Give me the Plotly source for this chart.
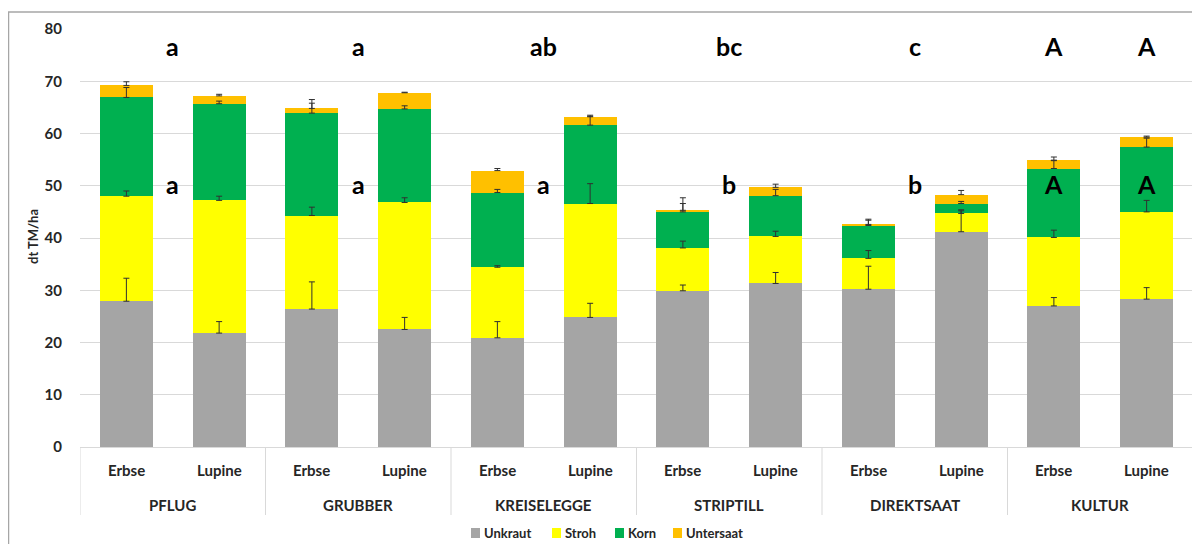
import plotly.graph_objects as go

# Gruppen und Kulturen
verfahren = ["PFLUG", "PFLUG", "GRUBBER", "GRUBBER", "KREISELEGGE", "KREISELEGGE",
             "STRIPTILL", "STRIPTILL", "DIREKTSAAT", "DIREKTSAAT", "KULTUR", "KULTUR"]
kultur = ["Erbse", "Lupine"] * 6
gruppen = ["PFLUG", "GRUBBER", "KREISELEGGE", "STRIPTILL", "DIREKTSAAT", "KULTUR"]

# Werte in dt TM/ha
unkraut = [27.9, 21.8, 26.4, 22.5, 20.9, 24.8, 29.9, 31.3, 30.2, 41.2, 27.0, 28.3]
stroh = [20.1, 25.4, 17.9, 24.3, 13.5, 21.8, 8.2, 9.0, 5.9, 3.5, 13.1, 16.7]
korn = [18.9, 18.5, 19.6, 17.9, 14.3, 15.0, 6.9, 7.8, 6.3, 1.9, 13.2, 12.4]
untersaat = [2.3, 1.5, 0.9, 3.1, 4.2, 1.6, 0.3, 1.6, 0.2, 1.7, 1.6, 1.9]

# Fehlerbalken (nur nach oben)
err_unkraut = [4.4, 2.2, 5.2, 2.3, 3.1, 2.7, 1.1, 2.1, 4.4, 4.0, 1.6, 2.2]
err_stroh = [1.0, 0.8, 1.6, 0.9, 0.3, 3.8, 1.3, 1.0, 1.5, 0.7, 1.4, 2.2]
err_korn = [1.9, 0.5, 1.9, 0.6, 0.6, 1.7, 1.6, 1.2, 1.0, 0.4, 1.5, 1.7]
err_untersaat = [0.7, 0.3, 1.7, 0.1, 0.4, 0.3, 2.4, 0.6, 1.0, 0.8, 0.6, 0.2]

# Buchstaben (Signifikanz)
top_letters = ["a", "a", "ab", "bc", "c"]
mid_letters = ["a", "a", "a", "b", "b"]
kultur_letters = ["A", "A"]

FONT = "Lato"
TXT = "#262626"
x = [verfahren, kultur]

serien = [
    ("Unkraut", unkraut, err_unkraut, "#A5A5A5"),
    ("Stroh", stroh, err_stroh, "#FFFF00"),
    ("Korn", korn, err_korn, "#00B050"),
    ("Untersaat", untersaat, err_untersaat, "#FFC000"),
]

# Plotfläche in Seitenpixeln (Seite hat 8px Rand)
PL, PR, PT, PB = 80, 1193, 29, 447
def px(xp):
    return (xp - PL) / (PR - PL)
def py(yp):
    return (PB - yp) / (PB - PT)

fig = go.Figure()
for name, vals, err, col in serien:
    fig.add_trace(go.Bar(x=x, y=vals, name=name, marker_color=col, marker_line_width=0,
                         showlegend=False))

# Fehlerbalken obenauf zeichnen (an der jeweiligen Stapelhöhe)
cum = [0] * len(kultur)
for name, vals, err, col in serien:
    cum = [c + v for c, v in zip(cum, vals)]
    fig.add_trace(go.Scatter(
        x=x, y=cum, mode="markers", marker=dict(size=1, color="rgba(0,0,0,0)"),
        showlegend=False, hoverinfo="skip",
        error_y=dict(type="data", array=err, arrayminus=[0] * len(err), symmetric=False,
                     color="#303030", thickness=1, width=3),
    ))

annots = []
bold = lambda s: dict(family=FONT, size=s, color="black", weight="bold")
for i, t in enumerate(top_letters):
    annots.append(dict(x=2 * i + 0.5, y=76.7, text=t, font=bold(25)))
for i, t in enumerate(mid_letters):
    annots.append(dict(x=2 * i + 0.5, y=50.4, text=t, font=bold(25)))
for j, t in enumerate(kultur_letters):
    annots.append(dict(x=10 + j, y=76.7, text=t, font=bold(25)))
    annots.append(dict(x=10 + j, y=50.4, text=t, font=bold(25)))
for a in annots:
    a.update(xref="x", yref="y", showarrow=False)

# Achsenbeschriftung (zweizeilig)
lab = dict(family=FONT, size=15, color=TXT, weight="bold")
for i, k in enumerate(kultur):
    annots.append(dict(x=i, y=py(470), xref="x", yref="paper", text=k, showarrow=False,
                       yanchor="middle", font=lab))
for i, g in enumerate(gruppen):
    annots.append(dict(x=2 * i + 0.5, y=py(505), xref="x", yref="paper", text=g,
                       showarrow=False, yanchor="middle", font=lab))
annots.append(dict(x=px(33), y=py(237), xref="paper", yref="paper", text="dt TM/ha",
                   textangle=-90, showarrow=False, xanchor="center", yanchor="middle",
                   font=dict(family=FONT, size=13, color=TXT, weight="bold")))

shapes = [dict(type="rect", xref="paper", yref="paper", x0=px(8.5), x1=1.1,
               y0=-0.3, y1=py(12), line=dict(color="#a6a6a6", width=1.5),
               fillcolor="rgba(0,0,0,0)", layer="below")]
for i in range(7):
    shapes.append(dict(type="line", xref="x", yref="paper", x0=2 * i - 0.5, x1=2 * i - 0.5,
                       y0=0, y1=py(515), line=dict(color="#d9d9d9", width=1)))

# Legende von Hand
leg_x = [471, 552, 615, 673]
for (name, vals, err, col), lx in zip(serien, leg_x):
    shapes.append(dict(type="rect", xref="paper", yref="paper", x0=px(lx), x1=px(lx + 9),
                       y0=py(538), y1=py(528), fillcolor=col, line=dict(width=0)))
    annots.append(dict(x=px(lx + 11), y=py(533), xref="paper", yref="paper", text=name,
                       showarrow=False, xanchor="left", yanchor="middle",
                       font=dict(family=FONT, size=13, color=TXT, weight="bold")))

W, H = 1192, 536
fig.update_layout(
    width=W, height=H,
    barmode="stack", bargap=0.43,
    paper_bgcolor="white", plot_bgcolor="white",
    margin=dict(l=PL - 8, r=W - (PR - 8), t=PT - 8, b=H - (PB - 8)),
    font=dict(family=FONT, color=TXT),
    annotations=annots,
    shapes=shapes,
    showlegend=False,
    xaxis=dict(type="multicategory", showticklabels=False, showline=True,
               linecolor="#d9d9d9", showdividers=False, automargin=False,
               range=[-0.5, 11.5]),
    yaxis=dict(range=[0, 80], dtick=10, showgrid=True, gridcolor="#d9d9d9",
               zeroline=False, showline=False, ticks="outside", ticklen=14,
               tickcolor="rgba(0,0,0,0)", automargin=False,
               tickfont=dict(size=15, family=FONT, weight="bold", color=TXT)),
)

fig.write_html("out.html")
